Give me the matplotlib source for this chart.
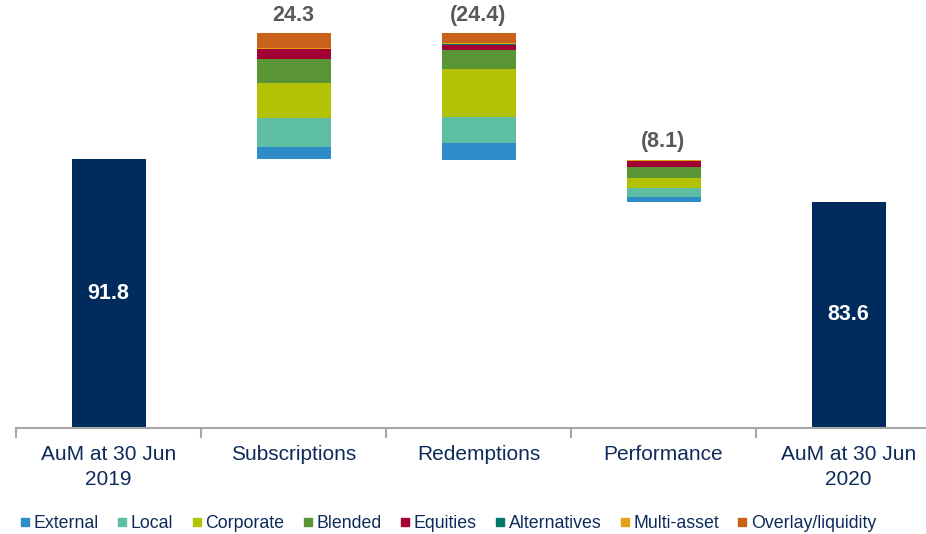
import matplotlib
matplotlib.use("Agg")
import matplotlib.pyplot as plt
from matplotlib.lines import Line2D

plt.rcParams['font.family'] = ['Liberation Sans', 'DejaVu Sans']

# data (USD bn)
categories = ["AuM at 30 Jun\n2019", "Subscriptions", "Redemptions", "Performance", "AuM at 30 Jun\n2020"]
start_aum = 91.8
end_aum = 83.6
flow_totals = [24.3, -24.4, -8.1]
flow_labels = ["24.3", "(24.4)", "(8.1)"]

segments = ["External", "Local", "Corporate", "Blended", "Equities", "Alternatives", "Multi-asset", "Overlay/liquidity"]
seg_colors = ["#2e8cc9", "#5ebea4", "#b3c206", "#5a9535", "#a30033", "#00796b", "#e2a116", "#c8621b"]
subscriptions = [2.3, 5.7, 6.75, 4.5, 2.0, 0.1, 0.15, 2.8]
redemptions = [3.15, 5.05, 9.3, 3.65, 1.0, 0.1, 0.2, 1.95]
performance = [0.95, 1.75, 1.9, 2.1, 1.15, 0.05, 0.1, 0.1]

navy = "#002b5c"
text_navy = "#0d2b5a"
label_gray = "#595959"
axis_gray = "#a6a6a6"

fig = plt.figure(figsize=(9.26, 5.34), dpi=100)
ax = fig.add_axes([16 / 926, 106 / 534, 925 / 926, 415 / 534])

bar_w = 0.4

# total bars
ax.bar(0, start_aum, width=bar_w, color=navy, zorder=2)
ax.bar(4, end_aum, width=bar_w, color=navy, zorder=2)
ax.text(0, (40 + start_aum) / 2, f"{start_aum:.1f}", ha="center", va="center",
        color="white", fontsize=15.5, fontweight="bold")
ax.text(4, (40 + end_aum) / 2, f"{end_aum:.1f}", ha="center", va="center",
        color="white", fontsize=15.5, fontweight="bold")

# flow bars, stacked by asset class
flows = [subscriptions, redemptions, performance]
level = start_aum
for i, (vals, total, lab) in enumerate(zip(flows, flow_totals, flow_labels)):
    x = i + 1
    low = min(level, level + total)
    high = max(level, level + total)
    bottom = low
    for v, c in zip(vals, seg_colors):
        ax.bar(x, v, width=bar_w, bottom=bottom, color=c, zorder=2)
        bottom += v
    ax.annotate(lab, (x, high), xytext=(0, 5.5), textcoords="offset points",
                ha="center", va="bottom", fontsize=15.5, fontweight="bold", color=label_gray)
    level += total

ax.set_ylim(40, 120)
ax.set_xlim(-0.5, 4.5)

for s in ["top", "right", "left"]:
    ax.spines[s].set_visible(False)
ax.spines["bottom"].set_color(axis_gray)
ax.spines["bottom"].set_linewidth(1.5)
ax.set_yticks([])

ax.set_xticks([-0.5, 0.5, 1.5, 2.5, 3.5, 4.5])
ax.set_xticklabels([])
ax.tick_params(axis="x", which="major", length=7, width=1.5, color=axis_gray)
ax.set_xticks(range(len(categories)), minor=True)
ax.set_xticklabels(categories, minor=True, fontsize=15, color=text_navy, linespacing=1.45)
ax.tick_params(axis="x", which="minor", length=0, pad=12)

handles = [Line2D([], [], marker="s", linestyle="", markersize=6, color=c) for c in seg_colors]
fig.legend(handles, segments, loc="center left", bbox_to_anchor=(0.022, 0.019), ncol=8,
           frameon=False, fontsize=12.8, handlelength=0.5, handletextpad=0.25,
           columnspacing=1.05, labelcolor=text_navy, borderaxespad=0, borderpad=0)

fig.savefig("out.png", dpi=100)
